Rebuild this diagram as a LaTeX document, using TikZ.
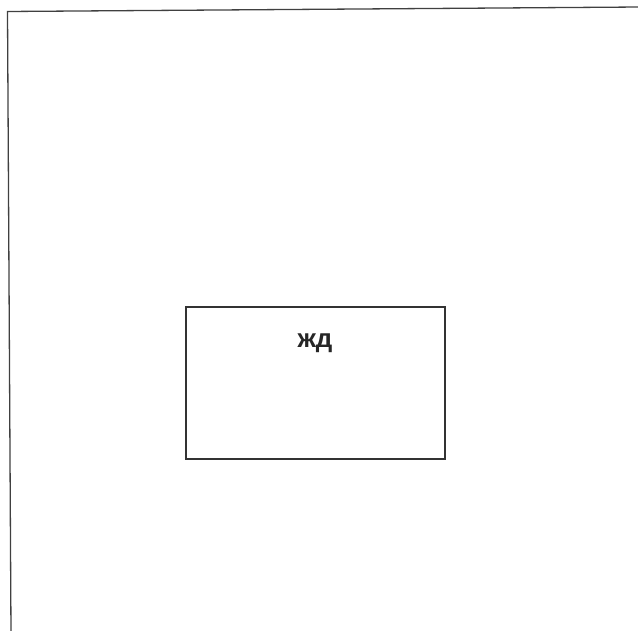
\documentclass[tikz,border=0pt]{standalone}
\usepackage{fontspec}
\setmainfont{Liberation Sans}
\begin{document}
\begin{tikzpicture}[x=1pt,y=-1pt,
  frame/.style={draw=black!75, line width=1.3pt},
  box/.style={draw=black!80, line width=1.2pt},
  lbl/.style={font=\bfseries\fontsize{26}{30}\selectfont, text=black!85, inner sep=0pt, anchor=base}]
\useasboundingbox (0,0) rectangle (638,631);
\coordinate (tl) at (7.5,11.5);
\coordinate (tr) at (640,7);
\coordinate (bl) at (11,633);
\draw[frame] (tr) -- (tl) -- (bl);
\draw[box] (186,307) rectangle (445,459);
\node[lbl] (t) at (315,348) {жд};
\end{tikzpicture}
\end{document}
